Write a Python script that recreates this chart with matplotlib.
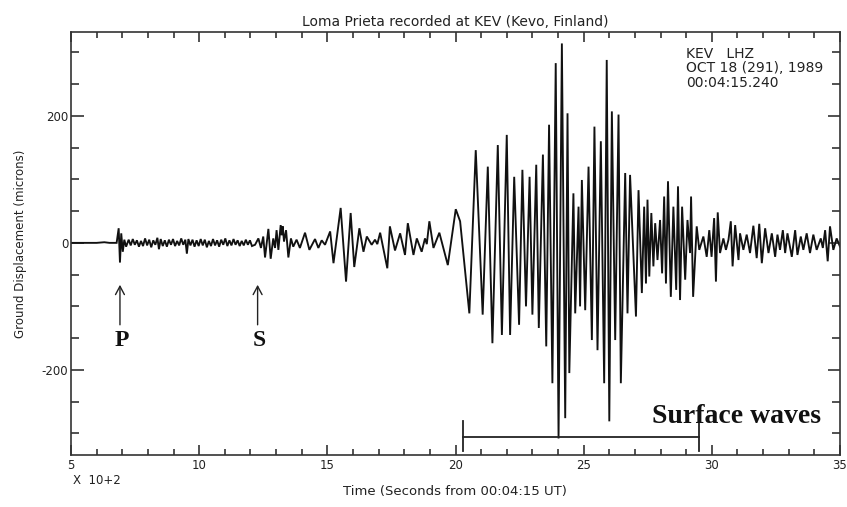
import matplotlib
matplotlib.use('Agg')
import matplotlib.pyplot as plt
from matplotlib.ticker import MultipleLocator

plt.rcParams['axes.unicode_minus'] = False
plt.rcParams['font.family'] = ['DejaVu Sans']

# ---- data: time (x 100 s after 00:04:15 UT) and ground displacement (microns) ----
pre_t = [5.0, 6.0, 6.3, 6.5, 6.78]
pre_v = [0, 0, 1, 0, 0]

p_t = [6.86, 6.91, 6.96, 7.02, 7.08, 7.15]
p_v = [23, -31, 15, -14, 5, -6]

noise_t = [7.25, 7.33, 7.41, 7.49, 7.57, 7.65, 7.73, 7.81, 7.89, 7.97, 8.05, 8.13,
           8.21, 8.29, 8.37, 8.43, 8.50, 8.58, 8.66, 8.74, 8.82, 8.90, 8.98, 9.06,
           9.14, 9.22, 9.30, 9.38, 9.46, 9.52, 9.58, 9.66, 9.74, 9.82, 9.90, 9.98,
           10.06, 10.14, 10.22, 10.30, 10.38, 10.46, 10.54, 10.62, 10.70, 10.78,
           10.86, 10.94, 11.02, 11.10, 11.18, 11.26, 11.34, 11.42, 11.50, 11.58,
           11.66, 11.74, 11.82, 11.90, 11.98, 12.06]
noise_v = [5, -4, 6, -3, 4, -6, 3, -5, 7, -4, 5, -7,
           4, -3, 8, -10, 6, -5, 4, -6, 5, -3, 6, -5,
           3, -4, 7, -3, 5, -17, 6, -4, 5, -6, 4, -5,
           6, -4, 5, -7, 3, -5, 6, -4, 4, -6,
           5, -3, 7, -5, 4, -4, 6, -3, 4, -5,
           3, -4, 5, -3, 4, -5]

s_t = [12.18, 12.31, 12.41, 12.50, 12.57, 12.70, 12.79, 12.89, 12.96, 13.02, 13.09,
       13.18, 13.22, 13.26, 13.31, 13.39, 13.48, 13.58, 13.67, 13.80, 13.93, 14.13,
       14.30, 14.52, 14.65, 14.78, 14.91]
s_v = [-3, 7, -8, 10, -23, 22, -25, 7, -8, 20, -11,
       28, 12, 26, 2, 20, -23, 7, -6, 5, -8, 16,
       -11, 6, -8, 4, -3]

body_t = [15.11, 15.24, 15.52, 15.73, 15.91, 16.05, 16.25, 16.41, 16.54, 16.73, 16.86,
          16.95, 17.06, 17.34, 17.44, 17.64, 17.84, 18.03, 18.14, 18.36, 18.49, 18.68,
          18.81, 18.88, 18.98, 19.14, 19.37, 19.70, 20.01, 20.18]
body_v = [18, -32, 55, -61, 47, -38, 23, -14, 10, -3, 5,
          -2, 16, -40, 26, -12, 15, -19, 31, -19, 7, -14,
          7, -2, 34, -8, 16, -35, 53, 34]

surf_t = [20.54, 20.79, 21.06, 21.26, 21.44, 21.65, 21.81, 22.00, 22.13, 22.29, 22.48,
          22.61, 22.75, 22.89, 23.00, 23.15, 23.25, 23.41, 23.54, 23.65, 23.78, 23.91,
          24.02, 24.15, 24.28, 24.37, 24.44, 24.60, 24.67, 24.80, 24.86, 24.93, 25.06,
          25.19, 25.32, 25.42, 25.54, 25.67, 25.80, 25.90, 26.00, 26.10, 26.23, 26.36,
          26.45, 26.62, 26.71, 26.81, 27.04, 27.14, 27.27, 27.36, 27.43, 27.49, 27.56,
          27.64, 27.72, 27.79, 27.88, 27.98, 28.06, 28.14, 28.21, 28.29, 28.40, 28.50,
          28.61, 28.68, 28.76, 28.84, 28.96, 29.05, 29.15]
surf_v = [-111, 146, -113, 120, -158, 154, -145, 170, -145, 104, -129,
          115, -100, 104, -113, 123, -134, 139, -163, 186, -221, 283,
          -308, 314, -276, 204, -205, 78, -111, 57, -100, 99, -106,
          120, -153, 183, -169, 160, -221, 288, -281, 207, -153, 202,
          -221, 110, -111, 107, -116, 83, -79, 57, -64, 68, -53,
          47, -37, 31, -27, 36, -48, 73, -64, 97, -85, 57,
          -74, 89, -90, 57, -58, 36, -16]

tail_t = [29.19, 29.27, 29.41, 29.51, 29.67, 29.80, 29.90, 29.99, 30.09, 30.16, 30.23,
          30.32, 30.45, 30.55, 30.65, 30.74, 30.81, 30.91, 31.04, 31.10, 31.23, 31.36,
          31.49, 31.62, 31.75, 31.85, 31.95, 32.08, 32.21, 32.34, 32.47, 32.56, 32.66,
          32.77, 32.86, 32.95, 33.12, 33.25, 33.34, 33.47, 33.57, 33.70, 33.83, 33.96,
          34.09, 34.25, 34.33, 34.42, 34.52, 34.61, 34.74, 34.87, 35.0]
tail_v = [73, -85, 26, -11, 10, -22, 20, -22, 39, -61, 48,
          -16, 7, -11, 5, 34, -37, 28, -27, 15, -11, 13,
          -16, 27, -24, 30, -32, 23, -16, 15, -22, 13, -11,
          20, -16, 15, -22, 20, -19, 10, -11, 15, -16, 13,
          -11, 7, -8, 20, -29, 26, -11, 7, -6]

x_ticks = [5, 10, 15, 20, 25, 30, 35]
x_ticklabels = ['5', '10', '15', '20', '25', '30', '35']
y_ticks = [-200, 0, 200]
y_ticklabels = ['-200', '0', '200']

phase_labels = ['P', 'S']
phase_times = [6.91, 12.28]

surface_start, surface_end = 20.28, 29.51

# ---- figure ----
fig = plt.figure(figsize=(8.47, 5.07), dpi=100)
ax = fig.add_axes([71 / 847, 1 - 455 / 507, 769 / 847, 423 / 507])

t = pre_t + p_t + noise_t + s_t + body_t + surf_t + tail_t
v = pre_v + p_v + noise_v + s_v + body_v + surf_v + tail_v
ax.plot(t, v, color='#111111', lw=1.35, solid_joinstyle='miter')

ax.set_xlim(5, 35)
ax.set_ylim(-334, 332)

ax.set_xticks(x_ticks)
ax.set_xticklabels(x_ticklabels)
ax.set_yticks(y_ticks)
ax.set_yticklabels(y_ticklabels)
ax.xaxis.set_minor_locator(MultipleLocator(1))
ax.yaxis.set_minor_locator(MultipleLocator(50))

ax.tick_params(axis='both', which='both', direction='in', top=True, right=True,
               colors='#222222', labelsize=8.5, width=1.1)
ax.tick_params(axis='x', which='major', length=7, pad=3)
ax.tick_params(axis='x', which='minor', length=4)
ax.tick_params(axis='y', which='major', length=9, pad=2)
ax.tick_params(axis='y', which='minor', length=5.5)
for sp in ax.spines.values():
    sp.set_color('#333333')
    sp.set_linewidth(1.2)

ax.set_title('Loma Prieta recorded at KEV (Kevo, Finland)', fontsize=10, pad=4,
             color='#222222')
ax.set_ylabel('Ground Displacement (microns)', fontsize=8.5, color='#222222')
ax.yaxis.set_label_coords(-0.057, 0.5)
fig.text(455 / 847, 1 - 492 / 507, 'Time (Seconds from 00:04:15 UT)', ha='center',
         va='center', fontsize=9.5, color='#222222')
fig.text(73 / 847, 1 - 480 / 507, 'X  10+2', ha='left', va='center', fontsize=8.5,
         color='#222222')

ax.text(0.7997, 0.965, 'KEV   LHZ\nOCT 18 (291), 1989\n00:04:15.240',
        transform=ax.transAxes, ha='left', va='top', fontsize=10, linespacing=1.05,
        color='#222222')

# phase arrows and labels
for lab, pt in zip(phase_labels, phase_times):
    ax.annotate('', xy=(pt, -66), xytext=(pt, -129),
                arrowprops=dict(arrowstyle='->,head_length=0.6,head_width=0.32',
                                lw=1.0, color='#222222', shrinkA=0, shrinkB=0))
    ax.text(pt + 0.07, -153, lab, ha='center', va='center', fontsize=17,
            fontweight='bold', family='Liberation Serif', color='#111111')

# surface waves bracket
ax.plot([surface_start, surface_end], [-306, -306], color='#222222', lw=1.3)
ax.plot([surface_start, surface_start], [-280, -327], color='#222222', lw=1.3)
ax.plot([surface_end, surface_end], [-280, -327], color='#222222', lw=1.3)
ax.text(27.67, -273, 'Surface waves', ha='left', va='center', fontsize=20,
        fontweight='bold', family='Liberation Serif', color='#111111')

fig.savefig('out.png', dpi=100)
